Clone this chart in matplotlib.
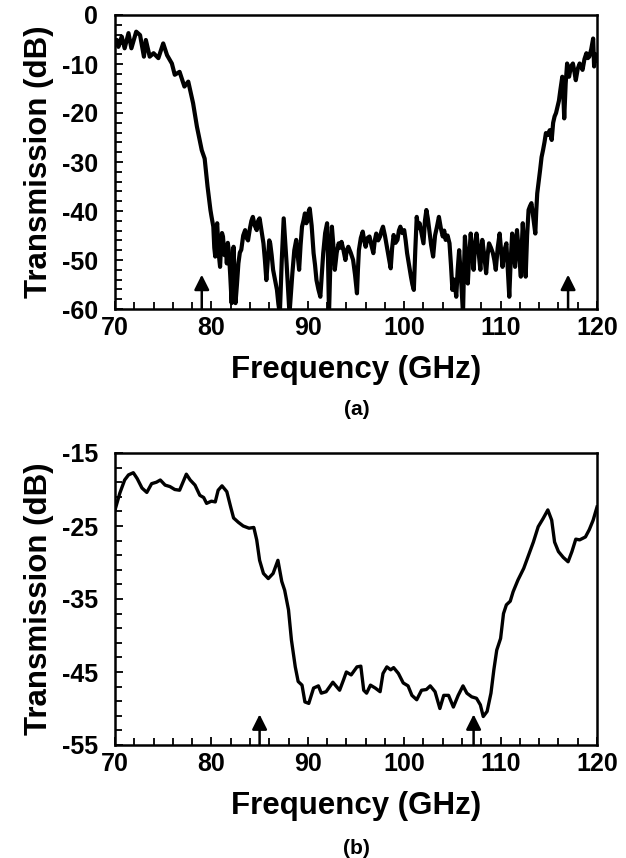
import matplotlib
matplotlib.use("Agg")
import matplotlib.pyplot as plt
from matplotlib.ticker import MultipleLocator, FixedLocator
import numpy as np

plt.rcParams['font.family'] = ['Liberation Sans', 'DejaVu Sans']
plt.rcParams['font.weight'] = 'bold'

# ---------------- data: panel (a) ----------------
freq_a = [70.0, 70.2, 70.35, 70.7, 71.0, 71.4, 71.7, 72.2, 72.6, 73.0,
          73.2, 73.6, 74.0, 74.5, 75.0, 75.4, 75.9, 76.2, 76.7, 77.2,
          77.6, 78.1, 78.5, 79.0, 79.3, 79.6, 79.9,
          80.0, 80.2, 80.3, 80.4, 80.5, 80.6, 80.75, 80.9, 81.0, 81.1,
          81.2, 81.35, 81.5, 81.6, 81.7, 81.8, 81.95, 82.1, 82.2, 82.3,
          82.4, 82.5, 82.65, 82.8, 82.95, 83.1, 83.3, 83.5, 83.65, 83.8,
          84.0, 84.15, 84.3, 84.5, 84.7, 84.85, 85.0, 85.2, 85.4, 85.55,
          85.7, 85.85, 86.0, 86.1, 86.25, 86.4, 86.6, 86.8, 86.95, 87.1,
          87.3, 87.5, 87.65, 87.8, 87.95, 88.1, 88.25, 88.4, 88.6, 88.8,
          88.95, 89.1, 89.25, 89.4, 89.55, 89.7, 89.85, 90.0, 90.1, 90.2,
          90.4, 90.6, 90.75, 90.9, 91.1, 91.3, 91.45, 91.6, 91.8, 92.0,
          92.1, 92.2, 92.35, 92.5, 92.65, 92.8, 93.0, 93.2, 93.35, 93.5,
          93.7, 93.9, 94.05, 94.2, 94.45, 94.7, 94.9, 95.1, 95.2, 95.3,
          95.5, 95.7, 95.85, 96.0, 96.2, 96.4, 96.6, 96.8, 96.95, 97.1,
          97.3, 97.5, 97.65, 97.8, 98.0, 98.2, 98.4, 98.6, 98.75, 98.9,
          99.1, 99.3, 99.45, 99.6, 99.8, 100.0, 100.15, 100.3, 100.5, 100.7,
          100.85, 101.0, 101.15, 101.3, 101.45, 101.6, 101.8, 102.0, 102.15, 102.3,
          102.45, 102.6, 102.8, 103.0, 103.2, 103.4, 103.6, 103.8, 104.0, 104.15,
          104.3, 104.5, 104.7, 104.85, 105.0, 105.2, 105.4, 105.55, 105.7, 105.9,
          106.1, 106.2, 106.3, 106.45, 106.6, 106.75, 106.9, 107.05, 107.2, 107.35,
          107.5, 107.7, 107.9, 108.0, 108.1, 108.3, 108.5, 108.65, 108.8, 109.0,
          109.2, 109.35, 109.5, 109.7, 109.9, 110.05, 110.2, 110.4, 110.6, 110.75,
          110.9, 111.05, 111.2, 111.35, 111.5, 111.6, 111.7, 111.9, 112.1, 112.2,
          112.3, 112.45, 112.6, 112.75, 112.9, 113.05, 113.2, 113.4, 113.6, 113.7,
          113.8, 113.95, 114.1, 114.25, 114.4, 114.55, 114.7, 114.9, 115.1, 115.3,
          115.45, 115.6, 115.75, 115.9, 116.05, 116.2, 116.4, 116.5, 116.6, 116.75,
          116.9, 117.0, 117.1, 117.3, 117.5, 117.65, 117.8, 118.0, 118.2, 118.35,
          118.5, 118.7, 118.9, 119.05, 119.2, 119.4, 119.6, 119.7, 119.85, 120.0]
trans_a = [-5.8, -5.1, -6.5, -4.4, -6.8, -3.7, -6.8, -3.4, -4.1, -8.5,
           -5.1, -8.5, -7.8, -8.8, -5.8, -8.2, -9.9, -12.2, -11.6, -14.6,
           -13.6, -18.0, -22.8, -27.6, -29.3, -35.0, -39.8,
           -41.0, -43.2, -47.5, -49.3, -44.0, -42.5, -48.5, -51.4, -47.0, -44.5,
           -45.2, -49.0, -47.0, -50.7, -46.5, -48.0, -53.0, -58.8, -52.0, -47.3,
           -53.5, -58.8, -55.0, -50.7, -48.5, -47.9, -45.0, -43.9, -45.5, -46.0,
           -43.5, -42.0, -41.2, -43.0, -43.9, -42.0, -41.5, -44.0, -46.6, -50.0,
           -54.1, -50.0, -46.0, -46.6, -49.0, -52.0, -54.0, -56.1, -59.0, -61.0,
           -50.0, -41.5, -46.0, -50.7, -56.0, -61.0, -57.0, -52.7, -48.0, -45.9,
           -49.0, -52.0, -47.0, -43.2, -42.0, -40.5, -42.5, -41.8, -40.0, -39.5,
           -43.0, -48.6, -51.0, -54.1, -56.0, -57.5, -53.0, -48.6, -44.5, -42.5,
           -50.0, -61.0, -50.0, -43.2, -47.0, -52.0, -48.5, -46.6, -47.5, -46.3,
           -48.0, -50.0, -48.0, -47.3, -48.5, -50.0, -53.0, -56.8, -52.0, -48.0,
           -45.5, -44.2, -46.0, -47.3, -45.5, -45.2, -47.0, -48.6, -46.0, -44.6,
           -46.0, -45.2, -44.0, -43.2, -45.0, -47.3, -49.5, -51.7, -47.5, -44.9,
           -46.5, -45.9, -44.0, -43.2, -44.5, -43.9, -46.0, -48.6, -51.0, -53.4,
           -55.0, -56.1, -48.0, -41.2, -43.5, -42.5, -44.5, -46.6, -42.0, -39.8,
           -41.5, -43.9, -47.0, -49.3, -45.0, -43.2, -41.2, -43.5, -45.2, -44.0,
           -45.9, -45.0, -46.6, -51.0, -56.1, -54.0, -57.5, -52.0, -48.0, -54.0,
           -61.0, -52.0, -45.2, -50.0, -54.8, -49.0, -44.6, -48.0, -52.0, -47.0,
           -44.6, -48.0, -52.0, -48.5, -45.9, -49.0, -52.7, -49.0, -46.6, -47.5,
           -48.6, -50.0, -52.0, -47.5, -44.6, -48.0, -51.4, -48.0, -46.6, -52.0,
           -57.5, -50.0, -44.6, -48.0, -51.4, -47.0, -43.9, -48.5, -53.4, -47.0,
           -42.5, -48.0, -53.4, -45.0, -39.8, -39.0, -38.4, -41.5, -44.6, -40.0,
           -36.4, -34.0, -31.6, -29.0, -27.6, -26.0, -24.1, -24.5, -23.5, -25.5,
           -22.0, -20.7, -20.0, -18.7, -17.5, -15.3, -12.6, -16.0, -21.1, -14.0,
           -9.9, -11.0, -12.6, -10.5, -9.9, -11.5, -13.3, -11.0, -9.9, -10.5,
           -11.2, -9.0, -7.8, -8.8, -8.5, -7.0, -4.8, -10.5, -8.0, -9.2]
arrows_a = [79.0, 117.0]
arrow_tip_a = -53.0

# ---------------- data: panel (b) ----------------
freq_b = [70.0, 70.5, 71.0, 71.4, 71.9, 72.3, 72.8, 73.3, 73.8, 74.3, 74.7, 75.2, 75.7, 76.2,
          76.7, 77.4, 77.8, 78.3, 78.8, 79.2, 79.5, 80.0, 80.4, 80.7, 81.1, 81.6, 82.0, 82.3,
          82.8, 83.3, 83.9, 84.4, 84.7, 85.0, 85.4, 85.9, 86.4, 86.9, 87.3, 87.6, 88.0, 88.3,
          88.7, 89.0, 89.4, 89.7, 90.1, 90.6, 91.1, 91.4, 91.9, 92.6, 93.3, 93.7, 94.0, 94.5,
          95.1, 95.5, 95.8, 96.1, 96.5, 97.0, 97.5, 97.8, 98.2, 98.6, 98.9, 99.4, 99.9, 100.4,
          100.8, 101.3, 101.8, 102.3, 102.7, 103.2, 103.7, 104.1, 104.6, 105.1, 105.6, 106.1,
          106.5, 107.0, 107.5, 107.9, 108.2, 108.6, 109.0, 109.3, 109.6, 110.0, 110.3, 110.6,
          111.0, 111.3, 111.8, 112.4, 112.9, 113.4, 113.9, 114.4, 114.9, 115.3, 115.6, 116.0,
          116.5, 117.0, 117.4, 117.8, 118.2, 118.8, 119.2, 119.6, 120.0]
trans_b = [-22.8, -20.5, -18.7, -18.0, -17.7, -18.5, -19.8, -20.4, -19.2, -19.0, -18.7, -19.4, -19.6, -20.0,
           -20.1, -17.9, -18.7, -19.4, -20.8, -21.1, -21.9, -21.6, -21.7, -20.1, -19.5, -20.3, -22.4, -23.9,
           -24.5, -25.0, -25.3, -25.2, -26.9, -29.7, -31.5, -32.2, -31.5, -29.7, -32.6, -33.8, -36.5, -40.6,
           -44.3, -46.3, -46.8, -49.1, -49.3, -47.2, -46.9, -47.9, -47.7, -46.4, -47.5, -46.1, -45.0, -45.4,
           -44.3, -44.2, -47.5, -47.9, -46.8, -47.2, -47.7, -45.2, -44.3, -44.7, -44.4, -45.2, -46.5, -46.9,
           -48.2, -48.8, -47.5, -47.4, -46.9, -47.7, -50.0, -48.2, -48.2, -49.8, -48.2, -46.9,
           -47.9, -48.4, -48.6, -49.5, -51.1, -50.4, -47.9, -44.7, -42.0, -40.4, -37.0, -35.8,
           -35.3, -34.0, -32.4, -30.8, -29.0, -27.2, -25.1, -24.0, -22.8, -24.2, -27.2, -28.5,
           -29.3, -29.9, -28.5, -26.8, -26.9, -26.5, -25.5, -24.2, -22.4]
arrows_b = [85.0, 107.2]
arrow_tip_b = -50.8

x_ticks = [70, 80, 90, 100, 110, 120]
y_ticks_a = [0, -10, -20, -30, -40, -50, -60]
y_ticks_b = [-15, -25, -35, -45, -55]

W, H = 626, 858
fig = plt.figure(figsize=(W / 100, H / 100), dpi=100)

def px_axes(left, top, right, bottom):
    return fig.add_axes([left / W, 1 - bottom / H, (right - left) / W, (bottom - top) / H])

ax1 = px_axes(115, 15, 597, 309)
ax2 = px_axes(115, 453, 597, 745)

TICK_FS = 18
LABEL_FS = 22.5

def style(ax, yt, ylim, panel_label, label_y):
    ax.set_xlim(70, 120)
    ax.set_ylim(*ylim)
    ax.xaxis.set_major_locator(FixedLocator(x_ticks))
    ax.xaxis.set_minor_locator(MultipleLocator(2))
    ax.yaxis.set_major_locator(FixedLocator(yt))
    ax.yaxis.set_minor_locator(FixedLocator(np.arange(ylim[0], ylim[1] + 0.1, 2)))
    ax.set_xticklabels([str(v) for v in x_ticks], fontsize=TICK_FS, fontweight='bold')
    ax.set_yticklabels([str(v) for v in yt], fontsize=TICK_FS, fontweight='bold')
    ax.tick_params(axis='both', which='both', direction='in', top=False, right=False,
                   width=1.3, color='black')
    ax.tick_params(axis='both', which='major', length=6)
    ax.tick_params(axis='both', which='minor', length=5)
    ax.tick_params(axis='x', which='major', pad=5)
    ax.tick_params(axis='y', which='major', pad=12)
    for s in ax.spines.values():
        s.set_linewidth(1.8)
    ax.set_xlabel('Frequency (GHz)', fontsize=LABEL_FS, fontweight='bold', labelpad=11)
    ax.set_ylabel('Transmission (dB)', fontsize=LABEL_FS, fontweight='bold', labelpad=6)
    fig.text(0.57, label_y, panel_label, fontsize=15, fontweight='bold', ha='center', va='center')

ax1.plot(freq_a, trans_a, color='black', lw=3.0, solid_joinstyle='round')
style(ax1, y_ticks_a, (-60, 0), '(a)', 1 - 410 / H)
for f in arrows_a:
    ax1.annotate('', xy=(f, arrow_tip_a), xytext=(f, -60),
                 arrowprops=dict(arrowstyle='-|>,head_length=0.9,head_width=0.45',
                                 color='black', lw=1.8, shrinkA=0, shrinkB=0))

ax2.plot(freq_b, trans_b, color='black', lw=2.4, solid_joinstyle='round')
style(ax2, y_ticks_b, (-55, -15), '(b)', 1 - 848 / H)
for f in arrows_b:
    ax2.annotate('', xy=(f, arrow_tip_b), xytext=(f, -55),
                 arrowprops=dict(arrowstyle='-|>,head_length=0.9,head_width=0.45',
                                 color='black', lw=1.8, shrinkA=0, shrinkB=0))

fig.savefig('out.png', dpi=100)
